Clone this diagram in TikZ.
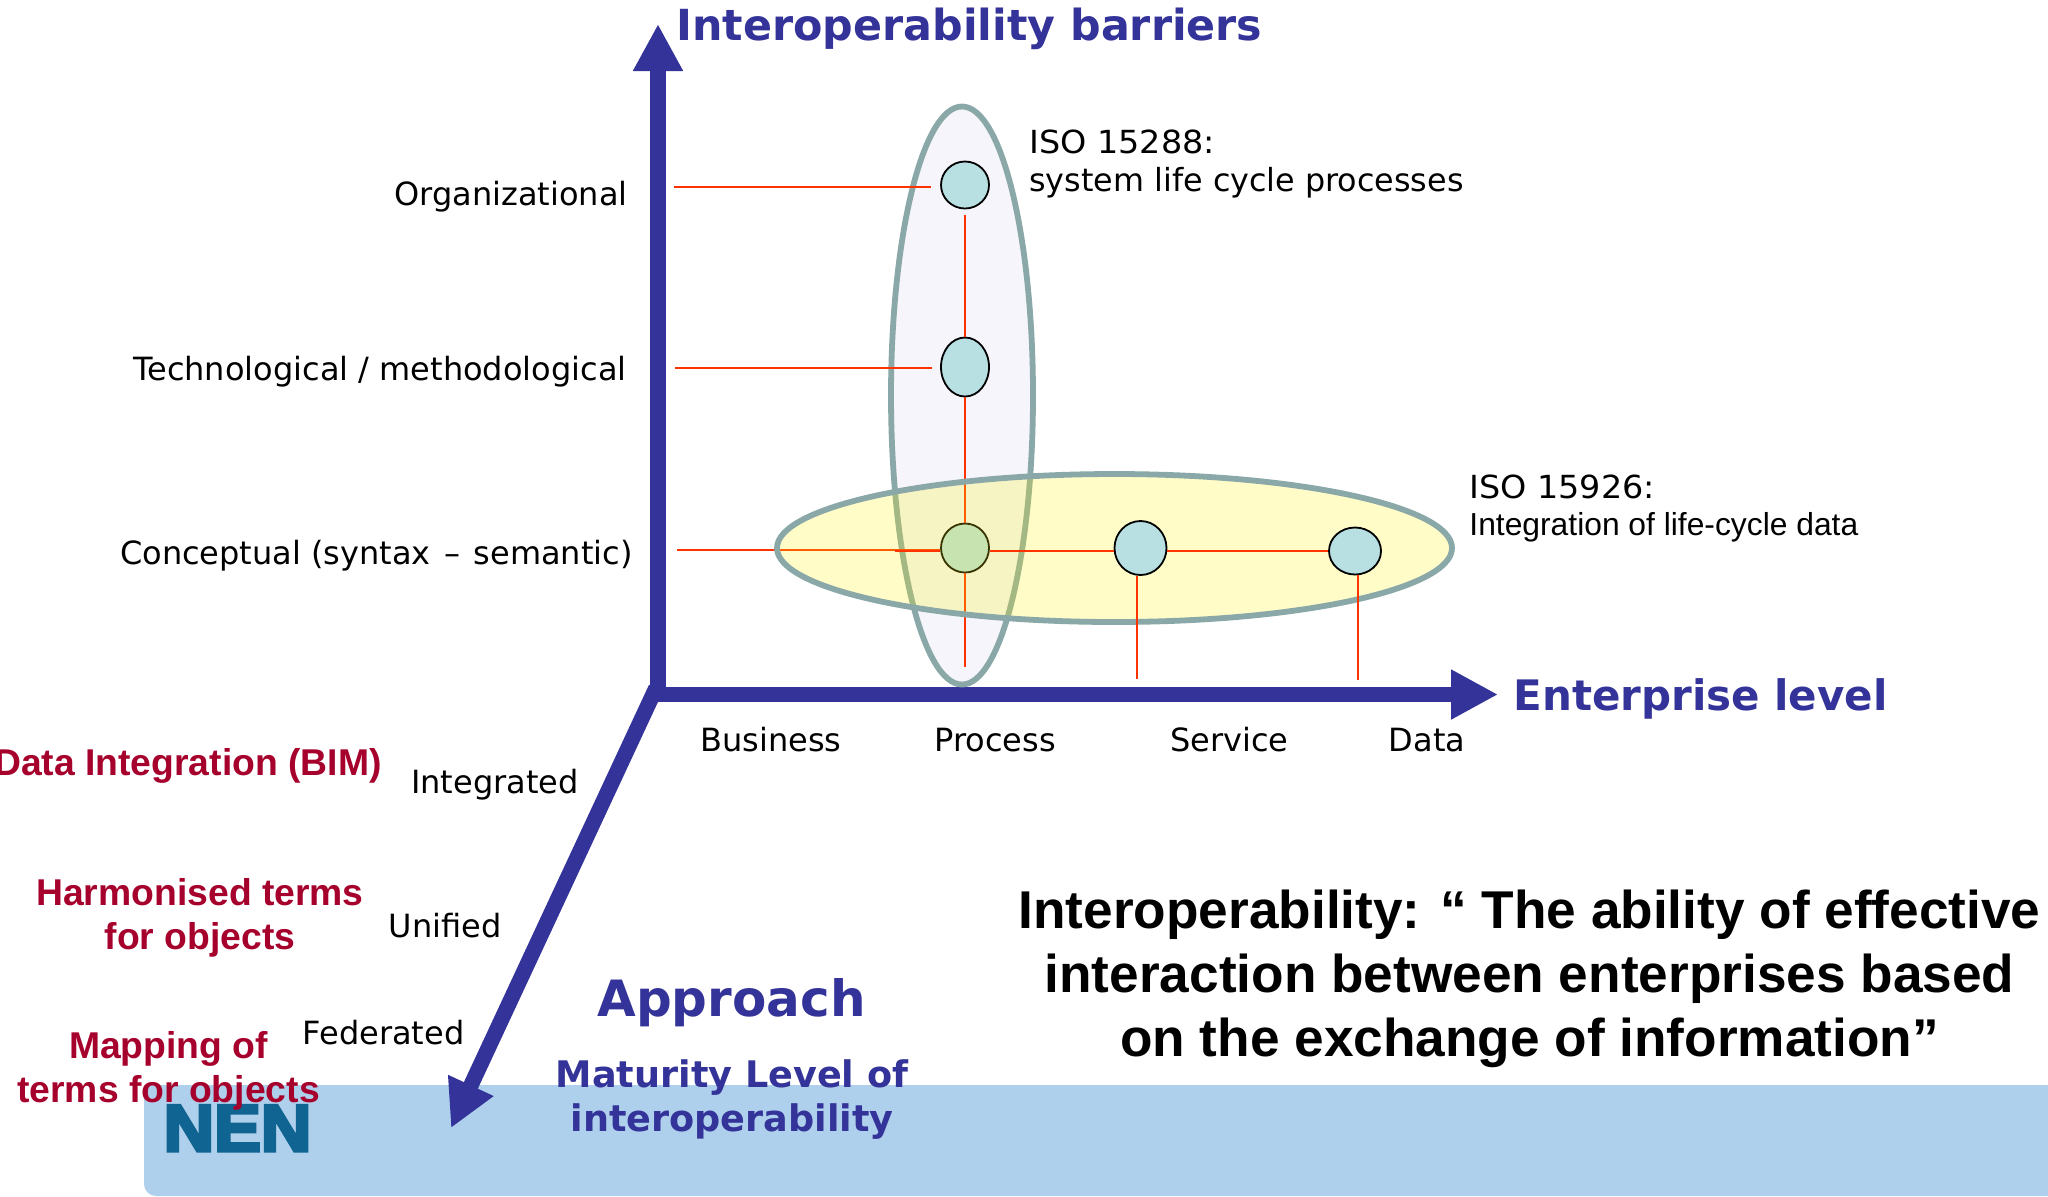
\documentclass[tikz,border=0pt]{standalone}
\usepackage{fontspec}
\setmainfont{DejaVu Sans}
\newfontfamily\arialf{Liberation Sans}
\newfontfamily\nenf[FakeBold=5]{Liberation Sans Bold}
\usetikzlibrary{shapes.geometric,arrows.meta}
\definecolor{axisc}{HTML}{333399}
\definecolor{redt}{HTML}{A6002C}
\definecolor{redl}{HTML}{FF3300}
\definecolor{ringc}{HTML}{8AA8A8}
\definecolor{tallc}{HTML}{F5F5FB}
\definecolor{dotc}{HTML}{B8DFE2}
\definecolor{bandc}{HTML}{AFD0EC}
\definecolor{nenc}{HTML}{0F6491}
\tikzset{
  axisline/.style={draw=axisc,line width=7.7pt,-{Triangle[length=23.5pt,width=23.5pt]}},
  redline/.style={draw=redl,line width=0.8pt},
  dot/.style={ellipse,draw=black,line width=0.9pt,inner sep=0pt,fill=dotc},
  ring/.style={ellipse,draw=ringc,line width=2.9pt,inner sep=0pt},
  plain/.style={inner sep=0pt,text=black,font=\fontsize{16}{19}\selectfont},
  isolab/.style={inner sep=0pt,text=black,align=left,font=\fontsize{15.9}{19.3}\selectfont},
  head/.style={inner sep=0pt,text=axisc,font=\fontsize{21}{26}\selectfont\bfseries},
  redlab/.style={inner sep=0pt,text=redt,align=center,font=\fontsize{18.65}{22}\selectfont\arialf\bfseries},
}
\begin{document}
\begin{tikzpicture}[x=0.5pt,y=-0.5pt]
\useasboundingbox (0,0) rectangle (2048,1196);
\clip (0,0) rectangle (2048,1196);
% band
\fill[bandc] (144,1085) [rounded corners=6pt] -- (144,1196) [sharp corners] -- (2048,1196) -- (2048,1085) -- cycle;
\node[inner sep=0pt,text=nenc,anchor=base,font=\fontsize{33}{33}\selectfont\nenf] (nen) at (237.5,1151) {\scalebox{1.06}[1]{NEN}};
% axes
\coordinate (diagstart) at (656,688);
\coordinate (diagtip) at (451,1128);
\coordinate (vstart) at (658,694.5);
\coordinate (vtip) at (658,24);
\coordinate (hstart) at (650,694.5);
\coordinate (htip) at (1498,694.5);
\draw[axisline] (diagstart) -- (diagtip);
\draw[axisline] (vstart) -- (vtip);
\draw[axisline] (hstart) -- (htip);
% tall ellipse and its dots
\node[ring,fill=tallc,minimum width=71pt,minimum height=289pt] (tall) at (962,395.5) {};
\node[dot,minimum width=24pt,minimum height=23.5pt] (c1) at (965,185) {};
\node[dot,minimum width=24pt,minimum height=29.5pt] (c2) at (965,367) {};
\node[dot,minimum width=24pt,minimum height=24.5pt] (c3) at (965,548) {};
% lines under the yellow ellipse
\coordinate (o1) at (674,187);
\coordinate (o2) at (675,368);
\coordinate (o3) at (677,550);
\coordinate (k3) at (895,551);
\coordinate (e3) at (965,667);
\coordinate (e4) at (1137,679);
\coordinate (e5) at (1358,680);
\draw[redline,shorten >=4.5pt] (o1) -- (o1 -| c1.west);
\draw[redline,shorten >=4pt] (o2) -- (o2 -| c2.west);
\draw[redline] (o3) -- (o3 -| c3.west);
\draw[redline,shorten <=3pt] (c1.south) -- (c2.north);
\draw[redline] (c2.south) -- (c3.north);
\draw[redline] (c3.south) -- (e3);
% yellow ellipse
\node[ring,fill=yellow,fill opacity=0.22,minimum width=337.5pt,minimum height=74pt] (wide) at (1114.5,548) {};
\node[dot,minimum width=26pt,minimum height=27pt] (c4) at (1140.5,548) {};
\node[dot,minimum width=26pt,minimum height=23.5pt] (c5) at (1355,551) {};
\draw[redline] (k3) -- (k3 -| c3.west);
\draw[redline] (k3 -| c3.east) -- (k3 -| c4.west);
\draw[redline] (k3 -| c4.east) -- (k3 -| c5.west);
\draw[redline] (c4.south -| e4) -- (e4);
\draw[redline] (c5.south -| e5) -- (e5);
% vertical axis labels
\node[head,anchor=base west,font=\fontsize{21.4}{26}\selectfont\bfseries] (barriers) at (676,40) {Interoperability barriers};
\node[plain,anchor=base east] (org) at (628,205) {Organizational};
\node[plain,anchor=base east] (tech) at (627,380) {Technological / methodological};
\node[plain,anchor=base east] (conc) at (633,564) {Conceptual (syntax\kern1.6pt{} –\kern1.6pt{} semantic)};
\node[isolab,anchor=north west] (iso1) at (1029,129) {\scalebox{1.05}[1]{ISO 15288:}\\system life cycle processes};
\node[isolab,anchor=north west,font=\fontsize{15.9}{18.8}\selectfont] (iso2) at (1469,474) {\scalebox{1.05}[1]{ISO 15926:}\\{\arialf Integration of life-cycle data}};
% horizontal axis labels
\node[head,anchor=base west] (level) at (1513,710.5) {Enterprise level};
\node[plain,anchor=base] (business) at (771,751) {Business};
\node[plain,anchor=base] (process) at (995,751) {Process};
\node[plain,anchor=base] (service) at (1229.5,751) {Service};
\node[plain,anchor=base] (data) at (1427,751) {Data};
% depth axis labels
\node[plain,anchor=base] (integrated) at (495,793) {Integrated};
\node[plain,anchor=base] (unified) at (445,937) {Unified};
\node[plain,anchor=base] (federated) at (383.5,1044) {Federated};
\node[redlab,anchor=base east] (bim) at (382,775) {Data Integration (BIM)};
\node[redlab] (harm) at (200,918) {Harmonised terms\\for objects};
\node[redlab] (mapp) at (168.5,1070.5) {Mapping of\\terms for objects};
\node[head,font=\fontsize{25}{29}\selectfont\bfseries] (approach) at (731.5,1002.5) {Approach};
\node[head,align=center,font=\fontsize{18.3}{22}\selectfont\bfseries] (matur) at (732,1099.5) {Maturity Level of\\interoperability};
\node[inner sep=0pt,text=black,align=center,font=\fontsize{26.6}{32}\selectfont\arialf\bfseries] (quote) at (1529.5,979) {Interoperability: “ The ability of effective\\interaction between enterprises based\\on the exchange of information”};
\end{tikzpicture}
\end{document}
